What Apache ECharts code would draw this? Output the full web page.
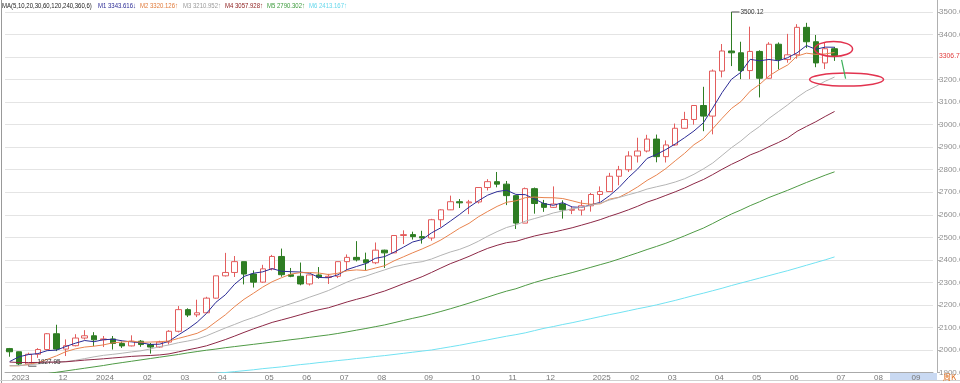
<!DOCTYPE html>
<html><head><meta charset="utf-8">
<script src="https://cdn.jsdelivr.net/npm/echarts@6/dist/echarts.min.js"></script>
<style>html,body{margin:0;padding:0;background:#fff;overflow:hidden}#c{width:960px;height:383px}</style>
</head><body><div id="c"></div>
<script>
// ---- data (weekly) ----
const weeks = ['2023-10-30','2023-11-06','2023-11-13','2023-11-20','2023-11-27','2023-12-04','2023-12-11','2023-12-18','2023-12-25',
'2024-01-01','2024-01-08','2024-01-15','2024-01-22','2024-01-29','2024-02-05','2024-02-12','2024-02-19','2024-02-26','2024-03-04','2024-03-11','2024-03-18','2024-03-25',
'2024-04-01','2024-04-08','2024-04-15','2024-04-22','2024-04-29','2024-05-06','2024-05-13','2024-05-20','2024-05-27','2024-06-03','2024-06-10','2024-06-17','2024-06-24',
'2024-07-01','2024-07-08','2024-07-15','2024-07-22','2024-07-29','2024-08-05','2024-08-12','2024-08-19','2024-08-26','2024-09-02','2024-09-09','2024-09-16','2024-09-23','2024-09-30',
'2024-10-07','2024-10-14','2024-10-21','2024-10-28','2024-11-04','2024-11-11','2024-11-18','2024-11-25','2024-12-02','2024-12-09','2024-12-16','2024-12-23','2024-12-30',
'2025-01-06','2025-01-13','2025-01-20','2025-01-27','2025-02-03','2025-02-10','2025-02-17','2025-02-24','2025-03-03','2025-03-10','2025-03-17','2025-03-24','2025-03-31',
'2025-04-07','2025-04-14','2025-04-21','2025-04-28','2025-05-05','2025-05-12','2025-05-19','2025-05-26','2025-06-02','2025-06-09','2025-06-16','2025-06-23','2025-06-30',
'2025-07-07','2025-07-14','2025-07-21','2025-07-28','2025-08-04','2025-08-11','2025-08-18','2025-08-25','2025-09-01','2025-09-08','2025-09-15'];

// [open, close, low, high]
const ohlc = [
[2006,1992,1970,2009],[1992,1938,1932,1993],[1938,1981,1927.95,1988],[1981,2002,1965,2008],[2002,2072,1999,2075],
[2072,2004,1995,2112],[2004,2019,1973,2047],[2019,2053,2016,2070],[2053,2063,2046,2088],[2063,2045,2017,2079],
[2045,2049,2013,2062],[2049,2029,2002,2062],[2029,2018,2009,2037],[2018,2039,2016,2065],[2039,2024,2014,2044],
[2024,2013,1984,2031],[2013,2035,2010,2041],[2035,2083,2024,2088],[2083,2179,2078,2195],[2179,2155,2146,2185],
[2156,2165,2146,2223],[2165,2230,2164,2236],[2230,2329,2228,2330],[2329,2344,2326,2431],[2344,2392,2324,2417],
[2392,2337,2291,2392],[2337,2301,2277,2353],[2301,2360,2298,2378],[2360,2415,2353,2422],[2415,2334,2325,2450],
[2334,2327,2323,2364],[2327,2293,2287,2388],[2293,2333,2286,2335],[2333,2322,2316,2368],[2322,2327,2293,2338],
[2327,2392,2319,2392],[2392,2411,2353,2424],[2411,2400,2393,2483],[2400,2387,2353,2432],[2387,2443,2381,2477],
[2443,2431,2364,2445],[2431,2508,2430,2509],[2508,2512,2470,2531],[2512,2503,2490,2525],[2503,2497,2472,2529],
[2497,2578,2485,2582],[2578,2622,2546,2625],[2622,2658,2621,2685],[2658,2653,2630,2670],[2653,2657,2603,2666],
[2657,2721,2650,2722],[2721,2747,2708,2758],[2747,2736,2722,2790],[2736,2685,2643,2750],[2685,2563,2537,2687],
[2563,2716,2563,2721],[2716,2650,2605,2721],[2650,2633,2613,2666],[2633,2648,2631,2726],[2648,2622,2583,2664],
[2620,2624,2603,2637],[2621,2640,2597,2665],[2640,2690,2614,2697],[2690,2703,2656,2726],[2703,2771,2702,2786],
[2771,2800,2731,2817],[2800,2861,2790,2882],[2861,2883,2832,2942],[2883,2936,2877,2955],[2936,2858,2833,2956],
[2858,2910,2832,2930],[2910,2984,2906,3005],[2984,3023,2982,3057],[3023,3085,3000,3086],[3085,3038,2971,3168],
[3038,3238,2957,3245],[3238,3327,3210,3358],[3327,3319,3260,3500.12],[3319,3240,3202,3368],[3240,3325,3202,3435],
[3325,3206,3121,3330],[3206,3357,3204,3366],[3357,3289,3245,3365],[3289,3310,3275,3403],[3310,3432,3293,3446],
[3432,3368,3340,3452],[3368,3274,3255,3398],[3274,3337,3247,3365],[3337,3306.73,3283,3345]];

const ma5 = [1948.6,1969.8,1979.6,1983.8,1997,1999.4,2015.6,2030,2042,2036.6,2045.6,2047.6,2040.6,2036,2031.8,2024.6,2025.8,2038.8,2066.8,2093,2123.4,2162.4,2211.6,2244.6,2292,2326.4,2340.6,2346.8,2361,2349.4,2347.4,2345.8,2340.4,2321.8,2320.4,2333.4,2357,2370.4,2383.4,2406.6,2414.4,2433.8,2456.2,2479.4,2490.2,2519.6,2542.4,2571.6,2601.6,2633.6,2662.2,2687.2,2702.8,2709.2,2690.4,2689.4,2670,2649.4,2642,2653.8,2634.8,2632.8,2644.2,2655.2,2685,2720.8,2765,2803.6,2850.2,2867.6,2889.6,2914.2,2942.2,2972,3008,3073.6,3142.2,3201.4,3232.4,3289.8,3283.4,3289.4,3283.4,3297.4,3318.8,3351.2,3334.6,3344.2,3343.6];
const ma10 = [1929.9,1929.7,1935.9,1943.7,1958.4,1974,1992.7,2004.8,2012.9,2016.8,2022.5,2031.6,2035.3,2039,2034.2,2035.1,2036.7,2039.7,2051.4,2062.4,2074,2094.1,2125.2,2155.7,2192.5,2224.9,2251.5,2279.2,2302.8,2320.7,2336.9,2343.2,2343.6,2341.4,2334.9,2340.4,2351.4,2355.4,2352.6,2363.5,2373.9,2395.4,2413.3,2431.4,2448.4,2467,2488.1,2513.9,2540.5,2561.9,2590.9,2614.8,2637.2,2655.4,2662,2675.8,2678.6,2676.1,2675.6,2672.1,2662.1,2651.4,2646.8,2648.6,2669.4,2677.8,2698.9,2723.9,2752.7,2776.3,2805.2,2839.6,2872.9,2911.1,2937.8,2981.6,3028.2,3071.8,3102.2,3148.9,3178.5,3215.8,3242.4,3264.9,3304.3,3317.3,3312,3313.8,3320.5];
const ma20 = [1930,1930.8,1933.9,1937.8,1943.6,1945.7,1948.7,1954.3,1961.7,1969.5,1976.2,1980.7,1985.6,1991.4,1996.3,2004.6,2014.7,2022.3,2032.2,2039.6,2048.3,2062.9,2080.3,2097.4,2113.4,2130,2144.1,2159.5,2177.1,2191.6,2205.5,2218.7,2234.4,2248.6,2263.7,2282.7,2301.5,2317.3,2327.7,2342.1,2355.4,2369.3,2378.5,2386.4,2391.7,2403.7,2419.8,2434.7,2446.6,2462.7,2482.4,2505.1,2525.3,2543.4,2555.2,2571.4,2583.4,2595,2608.1,2617,2626.5,2633.1,2642,2652,2665.7,2676.8,2688.8,2700,2714.2,2724.2,2733.7,2745.5,2759.9,2779.9,2803.6,2829.7,2863.6,2897.9,2927.5,2962.6,2991.9,3027.7,3057.7,3088,3121.1,3149.5,3170.1,3192.8,3211.4];
const ma30 = [1946.4,1944.2,1944.2,1944.6,1946.4,1946.2,1947.6,1951.2,1955,1957.8,1960.8,1964.4,1967.7,1971.5,1973.8,1975.5,1978,1982.7,1991.6,2000.5,2008.8,2018.5,2032.1,2046.1,2061.7,2078,2093.6,2107.9,2122.4,2133.3,2144.5,2156.3,2168,2178.7,2187.2,2200.1,2213.2,2224.8,2235.6,2248.9,2261.6,2277.6,2294,2309.5,2325.3,2344.1,2363.7,2382.8,2398.6,2415.4,2433.9,2451.1,2464.7,2476.1,2481.8,2494.4,2506,2515.1,2522.9,2532.5,2542.3,2553.9,2565.8,2578.5,2593.3,2606.9,2621.9,2638,2656.3,2670.1,2686.1,2701.9,2719,2738.4,2756.4,2778.4,2801.9,2823.9,2843.5,2865.8,2881.9,2902.3,2920.7,2941.5,2970.5,2992.2,3013,3036.5,3058.5];
const ma60 = [1871,1877,1883,1889,1895,1901,1907,1913,1919,1925,1931,1938,1944,1950,1956,1962,1968,1974,1980,1987,1993,1999,2004,2010,2015,2020,2025,2030,2035,2040,2045.5,2050.3,2056.1,2061.6,2066.8,2073.2,2080.4,2088,2095.3,2103.3,2111.2,2121,2130.9,2140.5,2149.5,2159.8,2170.9,2182.8,2195.1,2207.9,2221.4,2234.8,2248.4,2261.1,2271.7,2286.2,2299.8,2311.5,2322.6,2332.9,2343.4,2355.1,2366.9,2378.6,2390.2,2403.5,2417.5,2431.4,2445.9,2459.5,2473.8,2489.8,2506.5,2523.9,2540.8,2561.3,2582.8,2603.4,2621.1,2640.6,2657.9,2676.7,2692.7,2708.8,2726.1,2743.3,2759.5,2775.8,2790.7];
const ma120 = [null,null,null,null,null,null,null,null,null,null,null,null,null,null,null,null,null,null,null,null,null,null,1896,1900,1904,1908,1912,1917,1921,1925,1930,1935,1939,1944,1948,1953,1957,1962,1966,1971,1975,1980,1985,1990,1995,2000,2007,2014,2021,2029,2037,2045,2053,2061,2068,2076,2086,2096,2104,2113,2121,2130,2139,2148,2157,2165,2174,2183,2191,2200,2210,2220,2231,2242,2252,2263,2274,2286,2297,2308,2319,2330,2341,2352,2364,2376,2388,2400,2413];

const maNames = ['M1','M2','M3','M4','M5','M6'];
const maLegend = ['3343.616↓','3320.126↑','3210.952↑','3057.928↑','2790.302↑','2413.167↑'];
const maTitle = 'MA(5,10,20,30,60,120,240,360,6)';
const monthTicks = [[0,'2023'],[5,'12'],[9,'2024'],[14,'02'],[18,'03'],[22,'04'],[27,'05'],[31,'06'],[35,'07'],[39,'08'],[44,'09'],[49,'10'],[53,'11'],[57,'12'],[62,'2025'],[66,'02'],[70,'03'],[75,'04'],[79,'05'],[83,'06'],[88,'07'],[92,'08'],[96,'09']];
const lastPrice = 3306.73;
const highMark = [77, 3500.12];
const lowMark = [2, 1927.95];

// ---- chart ----
const FONT = "'Liberation Sans Narrow','Arial Narrow','Liberation Sans',Arial,sans-serif";
const maColors = ['#2b2b95','#e8834e','#b4b4b4','#8c2846','#4f9a45','#72e2f2'];
const legendColors = ['#2b2b95','#e07a3a','#9a9a9a','#8b1a1a','#3c9a3c','#66d8ec'];
const labelMap = Object.fromEntries(monthTicks);
const chart = echarts.init(document.getElementById('c'));
const maSeries = [ma5, ma10, ma20, ma30, ma60, ma120].map((d, k) => ({
  type: 'line', name: maNames[k], data: d, symbol: 'none', silent: true, z: 3,
  lineStyle: { width: 1, color: maColors[k] }, clip: true
}));
chart.setOption({
  animation: false,
  textStyle: { fontFamily: FONT },
  grid: { left: 5, right: 27, top: 0, bottom: 10.5, containLabel: false, outerBoundsMode: 'none' },
  xAxis: {
    type: 'category', data: weeks, boundaryGap: true,
    axisLine: { lineStyle: { color: '#aaaaaa' } },
    axisTick: { alignWithLabel: true, length: 3, interval: (i) => (i in labelMap), lineStyle: { color: '#999' } },
    axisLabel: { interval: (i) => (i in labelMap), formatter: (v, i) => labelMap[i] || '', align: 'left',
      margin: 1, fontSize: 8, color: '#777', padding: [0, 0, 0, 2] },
    splitLine: { show: false }
  },
  yAxis: {
    type: 'value', position: 'right', offset: 4, min: 1900, max: 3553.3, interval: 100, scale: false,
    axisLine: { show: true, lineStyle: { color: '#b0b0b0' } },
    axisTick: { show: true, length: 3, lineStyle: { color: '#b0b0b0' } },
    axisLabel: { fontSize: 8, color: '#909090', margin: 2, showMaxLabel: false,
      formatter: (v) => (Math.abs(v - lastPrice) < 20 || v > 3500.5) ? '' : v.toFixed(2) },
    splitLine: { show: true, showMaxLine: false, lineStyle: { color: '#e4e4e4' } }
  },
  series: [{
    type: 'candlestick', data: ohlc, barWidth: 6, z: 2,
    itemStyle: { color: '#ffffff', color0: '#2e7d23', borderColor: '#e35d5d', borderColor0: '#2e7d23', borderWidth: 1 }
  }].concat(maSeries)
});

const px = (i, v) => chart.convertToPixel({ xAxisIndex: 0, yAxisIndex: 0 }, [i, v]);
const g = [];
// MA legend row
const legendX = [98, 140, 183, 225, 267, 309];
g.push({ type: 'text', x: 2, y: 6, scaleX: 0.8, z: 10, style: { text: maTitle, fill: '#222', fontSize: 7.5, fontFamily: FONT, verticalAlign: 'middle' } });
maNames.forEach((n, k) => g.push({ type: 'text', x: legendX[k], y: 6, scaleX: 0.8, z: 10,
  style: { text: n + ' ' + maLegend[k], fill: legendColors[k], fontSize: 7.5, fontFamily: FONT, verticalAlign: 'middle' } }));
// high / low marks
const hp = px(highMark[0], highMark[1]);
g.push({ type: 'line', z: 10, shape: { x1: hp[0], y1: hp[1], x2: hp[0] + 8, y2: hp[1] }, style: { stroke: '#555', lineWidth: 1 } });
g.push({ type: 'text', x: hp[0] + 9, y: hp[1], scaleX: 0.85, z: 10, style: { text: highMark[1].toFixed(2), fill: '#333', fontSize: 7.5, fontFamily: FONT, verticalAlign: 'middle' } });
const lp = px(lowMark[0], lowMark[1]);
g.push({ type: 'line', z: 10, shape: { x1: lp[0], y1: lp[1], x2: lp[0] + 8, y2: lp[1] }, style: { stroke: '#555', lineWidth: 1 } });
g.push({ type: 'text', x: lp[0] + 9, y: lp[1] - 4, scaleX: 0.85, z: 10, style: { text: lowMark[1].toFixed(2), fill: '#333', fontSize: 7.5, fontFamily: FONT, verticalAlign: 'middle' } });
// last price on axis
const lpy = px(88, lastPrice)[1];
g.push({ type: 'rect', z: 9, shape: { x: 938, y: lpy - 5, width: 22, height: 10 }, style: { fill: '#ffffff' } });
g.push({ type: 'text', x: 939, y: lpy, scaleX: 0.85, z: 10, style: { text: lastPrice.toFixed(2), fill: '#e03a3a', fontSize: 8, fontFamily: FONT, verticalAlign: 'middle' } });
// hand-drawn annotations
const e1 = px(88, 3336), e2 = px(88, 3200);
g.push({ type: 'ellipse', z: 11, shape: { cx: e1[0] - 1, cy: e1[1], rx: 19, ry: 7.5 }, style: { fill: null, stroke: '#e2334f', lineWidth: 1.5 } });
g.push({ type: 'ellipse', z: 11, shape: { cx: e2[0] + 12, cy: e2[1], rx: 37, ry: 6.5 }, style: { fill: null, stroke: '#e2334f', lineWidth: 1.5 } });
const a1 = px(88, 3288), a2 = px(88, 3204);
g.push({ type: 'line', z: 11, shape: { x1: a1[0] + 7, y1: a1[1], x2: a2[0] + 11, y2: a2[1] }, style: { stroke: '#3cb05a', lineWidth: 1.2 } });
// frame bits
g.push({ type: 'line', z: 1, shape: { x1: 1.5, y1: 0, x2: 1.5, y2: 383 }, style: { stroke: '#999', lineWidth: 1 } });
g.push({ type: 'line', z: 1, shape: { x1: 0, y1: 380.5, x2: 960, y2: 380.5 }, style: { stroke: '#d0d0d0', lineWidth: 1 } });
g.push({ type: 'rect', z: -10, shape: { x: 890, y: 373, width: 47, height: 8 }, style: { fill: '#c9d9f2' } });
g.push({ type: 'text', x: 943, y: 377, z: 10, style: { text: '周K', fill: '#e07020', fontSize: 8, fontFamily: "'Noto Sans CJK SC',sans-serif", verticalAlign: 'middle' } });
chart.setOption({ graphic: g });
</script>
</body></html>
